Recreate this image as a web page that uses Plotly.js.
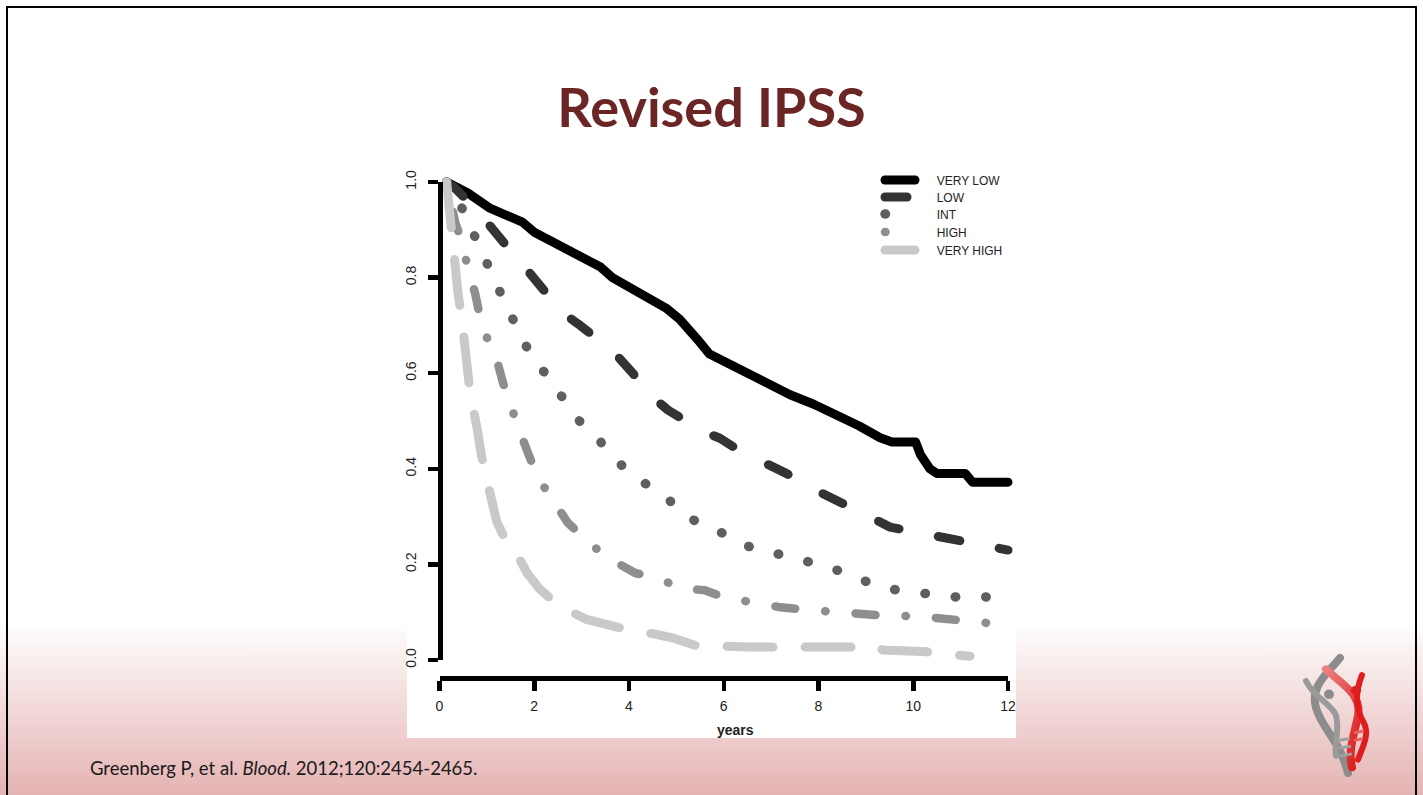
<!DOCTYPE html>
<html>
<head>
<meta charset="utf-8">
<script src="https://cdn.plot.ly/plotly-3.0.1.min.js"></script>
<style>
html,body{margin:0;padding:0;background:#fff;}
#chart{width:1423px;height:795px;background:linear-gradient(to bottom,#ffffff 0px,#ffffff 620px,#e5b3b3 795px);}
#chart .js-line{stroke-linecap:round;stroke-linejoin:round;}
</style>
</head>
<body>
<div id="chart"></div>
<script>
// ---------------- data ----------------
const categories = ['VERY LOW', 'LOW', 'INT', 'HIGH', 'VERY HIGH'];

const veryLowYears = [0.15,0.6,1.05,1.55,1.75,2.0,2.4,3.0,3.4,3.65,4.0,4.2,4.45,4.8,5.07,5.25,5.45,5.7,6.0,6.45,6.9,7.4,7.9,8.45,8.85,9.3,9.55,10.05,10.15,10.35,10.5,11.1,11.25,12.0];
const veryLowSurv  = [1.0,0.977,0.946,0.925,0.916,0.895,0.874,0.843,0.822,0.80,0.78,0.767,0.755,0.735,0.713,0.695,0.67,0.64,0.625,0.60,0.577,0.555,0.535,0.51,0.49,0.465,0.456,0.456,0.43,0.40,0.39,0.39,0.372,0.372];

const lowYears = [0.15,0.3,0.8,1.0,1.4,1.65,2.0,2.27,2.6,2.97,3.4,3.7,4.08,4.44,4.82,5.2,5.56,5.92,6.41,6.83,7.33,7.72,8.2,8.6,9.13,9.51,10.14,10.67,11.26,11.76,12.0];
const lowSurv  = [1.0,0.99,0.94,0.914,0.868,0.84,0.80,0.77,0.726,0.70,0.665,0.642,0.60,0.555,0.523,0.50,0.478,0.464,0.433,0.414,0.39,0.366,0.341,0.32,0.297,0.278,0.266,0.257,0.245,0.232,0.23];

const intYears = [0.15,0.33,0.58,0.79,1.0,1.21,1.42,1.64,1.87,2.16,2.44,2.71,3.0,3.37,3.68,4.02,4.42,4.82,5.16,5.58,6.07,6.51,7.06,7.59,8.12,8.63,9.13,9.66,10.25,10.86,11.53,11.7];
const intSurv  = [1.0,0.977,0.922,0.88,0.83,0.785,0.739,0.695,0.649,0.609,0.571,0.531,0.494,0.46,0.423,0.391,0.364,0.337,0.305,0.28,0.262,0.238,0.224,0.211,0.197,0.18,0.159,0.146,0.138,0.132,0.132,0.131];

const highYears = [0.15,0.33,0.5,0.6,0.75,0.85,1.02,1.21,1.34,1.49,1.66,1.83,2.0,2.22,2.45,2.71,3.03,3.37,3.75,4.13,4.68,5.07,5.6,6.09,6.62,7.15,7.74,8.31,8.88,9.47,10.08,10.67,11.2,11.77,12.0];
const highSurv  = [1.0,0.916,0.868,0.816,0.768,0.72,0.669,0.628,0.58,0.533,0.487,0.443,0.40,0.36,0.322,0.287,0.257,0.228,0.203,0.182,0.169,0.15,0.146,0.128,0.121,0.111,0.105,0.10,0.096,0.092,0.092,0.086,0.08,0.073,0.073];

const veryHighYears = [0.15,0.22,0.29,0.39,0.47,0.58,0.64,0.81,0.89,1.1,1.21,1.4,1.64,1.85,2.1,2.37,2.69,3.1,3.54,3.98,4.5,4.93,5.39,5.92,6.5,7.0,8.2,8.7,9.3,9.35,9.82,10.3,10.7,11.2];
const veryHighSurv  = [1.0,0.92,0.868,0.768,0.715,0.621,0.565,0.475,0.425,0.335,0.289,0.25,0.22,0.182,0.15,0.126,0.105,0.085,0.073,0.063,0.055,0.046,0.031,0.027,0.027,0.027,0.027,0.029,0.027,0.021,0.021,0.017,0.012,0.008];

const xTickValues = [0, 2, 4, 6, 8, 10, 12];
const xTickLabels = ['0', '2', '4', '6', '8', '10', '12'];
const yTickValues = [0, 0.2, 0.4, 0.6, 0.8, 1.0];
const yTickLabels = ['0.0', '0.2', '0.4', '0.6', '0.8', '1.0'];

const titleText = 'Revised IPSS';
const xTitleText = 'years';
const citationText = 'Greenberg P, et al. <i>Blood.</i> 2012;120:2454-2465.';

// ---------------- layout geometry ----------------
const W = 1423, H = 795;
const X0 = 439.5, X12 = 1008, Y1 = 182, Y0 = 660;
const ppx = (X12 - X0) / 12, ppy = (Y0 - Y1);
const PADX = 0.5, PADY = 0.05;
const fx = p => p / W, fy = p => 1 - p / H;

const seriesX = [veryLowYears, lowYears, intYears, highYears, veryHighYears];
const seriesY = [veryLowSurv, lowSurv, intSurv, highSurv, veryHighSurv];
const styles = [
  {color: '#000000', width: 9,   dash: 'solid'},
  {color: '#333333', width: 9,   dash: '22px,40px'},
  {color: '#5f5f5f', width: 9.5, dash: '0.5px,30px'},
  {color: '#8e8e8e', width: 8.5, dash: '0.5px,30px,20px,30px'},
  {color: '#c9c9c9', width: 9,   dash: '46px,32px'}
];
const legendY = [180, 197, 214, 232, 250];
const LEGX = 880;
const LEGEND_PAD = '\u00a0\u00a0\u00a0\u00a0\u00a0';

const data = categories.map((name, i) => ({
  type: 'scatter', mode: 'lines', name: LEGEND_PAD + name,
  x: seriesX[i], y: seriesY[i],
  xaxis: 'x', yaxis: 'y',
  line: {color: styles[i].color, width: styles[i].width, dash: styles[i].dash},
  legend: i === 0 ? 'legend' : 'legend' + (i + 1),
  showlegend: true,
  hoverinfo: 'skip'
}));
// carrier for the R-style detached axes
data.push({type: 'scatter', mode: 'lines', x: [], y: [], xaxis: 'x2', yaxis: 'y2', showlegend: false, hoverinfo: 'skip'});

const tickFont = {family: 'Liberation Sans, Arial, sans-serif', size: 14, color: '#222'};

const layout = {
  width: W, height: H,
  margin: {l: 0, r: 0, t: 0, b: 0},
  showlegend: true,
  paper_bgcolor: 'rgba(0,0,0,0)', plot_bgcolor: 'rgba(0,0,0,0)',
  title: {
    text: titleText, x: 0.5, xanchor: 'center', xref: 'paper',
    y: fy(108), yanchor: 'middle', yref: 'container',
    font: {family: 'Lato, Open Sans, sans-serif', size: 54, weight: 700, color: '#6b2525'}
  },
  xaxis: {domain: [fx(X0 - PADX * ppx), fx(X12 + PADX * ppx)], range: [-PADX, 12 + PADX], visible: false, fixedrange: true},
  yaxis: {domain: [fy(Y0 + PADY * ppy), fy(Y1 - PADY * ppy)], range: [-PADY, 1 + PADY], visible: false, fixedrange: true},
  xaxis2: {
    domain: [fx(X0), fx(X12)], range: [0, 12], anchor: 'free', position: fy(678),
    showline: true, linewidth: 4.5, linecolor: '#000', ticks: 'outside', ticklen: 10, tickwidth: 4.5, tickcolor: '#000',
    tickvals: xTickValues, ticktext: xTickLabels, showgrid: false, zeroline: false, tickfont: tickFont, fixedrange: true,
    ticklabelstandoff: 4
  },
  yaxis2: {
    domain: [fy(Y0), fy(Y1)], range: [0, 1], anchor: 'free', position: fx(440),
    showline: true, linewidth: 4.5, linecolor: '#000', ticks: 'outside', ticklen: 10, tickwidth: 4.5, tickcolor: '#000',
    tickvals: yTickValues, ticktext: yTickLabels, tickangle: -90, showgrid: false, zeroline: false, tickfont: tickFont, fixedrange: true,
    ticklabelstandoff: 6
  },
  shapes: [
    {type: 'rect', xref: 'paper', yref: 'paper', x0: fx(407), x1: fx(1016), y0: fy(150), y1: fy(738), fillcolor: '#ffffff', line: {width: 0}, layer: 'below'},
    {type: 'rect', xref: 'paper', yref: 'paper', x0: fx(7), x1: fx(1416), y0: fy(7), y1: fy(805), fillcolor: 'rgba(0,0,0,0)', line: {color: '#000', width: 2}, layer: 'above'}
  ],
  annotations: [
    {text: '<b>' + xTitleText + '</b>', xref: 'paper', yref: 'paper', x: fx(735), y: fy(730), xanchor: 'center', yanchor: 'middle', showarrow: false,
     font: {family: 'Liberation Sans, Arial, sans-serif', size: 14, color: '#222'}},
    {text: citationText, xref: 'paper', yref: 'paper', x: fx(88), y: fy(768), xanchor: 'left', yanchor: 'middle', showarrow: false,
     font: {family: 'Lato, Open Sans, sans-serif', size: 18.5, color: '#1a1a1a'}}
  ],
  images: []
};

categories.forEach((c, i) => {
  layout[i === 0 ? 'legend' : 'legend' + (i + 1)] = {
    visible: true,
    x: fx(LEGX), xanchor: 'left', y: fy(legendY[i]), yanchor: 'middle',
    bgcolor: 'rgba(0,0,0,0)', borderwidth: 0, tracegroupgap: 0, itemwidth: 30,
    font: {family: 'Liberation Sans, Arial, sans-serif', size: 12, color: '#222'}
  };
});

// decorative logo (bottom right)
const logoSvg =
  "<svg xmlns='http://www.w3.org/2000/svg' width='80' height='130' viewBox='0 0 80 130'>" +
  "<defs><linearGradient id='g' x1='0' y1='0' x2='1' y2='1'><stop offset='0' stop-color='#f08080'/><stop offset='1' stop-color='#d81818'/></linearGradient></defs>" +
  "<path d='M44 6 C30 24 14 36 20 58 C26 80 44 92 52 126' fill='none' stroke='#8c8c8c' stroke-width='8' stroke-linecap='round'/>" +
  "<path d='M10 30 C18 48 36 54 40 66 C44 80 38 96 40 108' fill='none' stroke='#9a9a9a' stroke-width='6' stroke-linecap='round'/>" +
  "<circle cx='33' cy='44' r='5' fill='#8c8c8c'/>" +
  "<path d='M30 18 C46 34 66 44 62 66 C58 88 52 100 56 120' fill='none' stroke='url(#g)' stroke-width='8' stroke-linecap='round'/>" +
  "<path d='M66 24 C60 40 58 56 68 74 C74 86 66 100 62 112' fill='none' stroke='#e01c1c' stroke-width='6' stroke-linecap='round'/>" +
  "<circle cx='60' cy='40' r='5' fill='#e01c1c'/>" +
  "<g stroke='#a0a0a0' stroke-width='3'><line x1='42' y1='92' x2='54' y2='90'/><line x1='43' y1='100' x2='55' y2='98'/><line x1='44' y1='108' x2='56' y2='106'/></g>" +
  "<g stroke='#e86060' stroke-width='3'><line x1='58' y1='84' x2='68' y2='82'/><line x1='58' y1='92' x2='67' y2='90'/></g>" +
  "</svg>";
layout.images.push({
  source: 'data:image/svg+xml;charset=utf-8,' + encodeURIComponent(logoSvg),
  xref: 'paper', yref: 'paper', x: fx(1296), y: fy(652), sizex: fx(80), sizey: 125 / H,
  xanchor: 'left', yanchor: 'top', sizing: 'stretch', layer: 'above'
});

Plotly.newPlot('chart', data, layout, {displayModeBar: false, staticPlot: true});
</script>
</body>
</html>
